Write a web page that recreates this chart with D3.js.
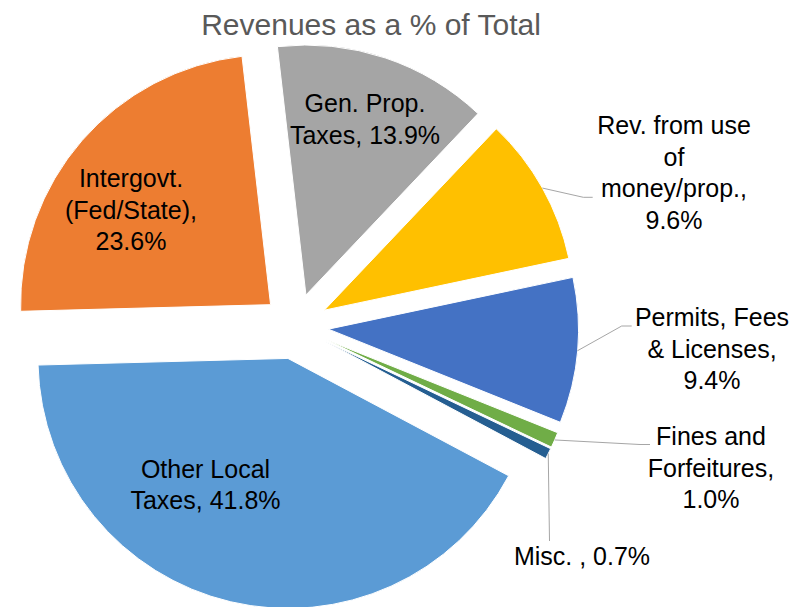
<!DOCTYPE html>
<html>
<head>
<meta charset="utf-8">
<script src="https://cdn.jsdelivr.net/npm/d3@7"></script>
<style>
  body { margin: 0; background: #fff; }
  svg { display: block; }
  text { font-family: "Liberation Sans", Arial, sans-serif; }
</style>
</head>
<body>
<div id="container"></div>
<script>
/* DATA (in sheet order) */
const categories = ["Other Local Taxes", "Intergovt. (Fed/State)", "Gen. Prop. Taxes",
  "Rev. from use of money/prop.", "Permits, Fees & Licenses", "Fines and Forfeitures", "Misc. "];
const values = [41.8, 23.6, 13.9, 9.6, 9.4, 1.0, 0.7];
const colors = ["#5B9BD5", "#ED7D31", "#A5A5A5", "#FFC000", "#4472C4", "#70AD47", "#255E91"];

/* CONSTANTS AND GLOBALS */
const width = 805,
  height = 607,
  cx = 295.5, cy = 326.3,
  radius = 250,
  explode = 33,
  firstSliceAngle = 118; // degrees, clockwise from 12 o'clock

// words per line for each label, and where the label block sits
const labelLayout = [
  { words: [2, 2], x: 205.5, y: 477.5 },
  { words: [1, 1, 1], x: 131, y: 187 },
  { words: [2, 2], x: 365, y: 112.3 },
  { words: [3, 1, 1, 1], x: 674, y: 134, leader: [[583.3, 197.3], [592.7, 197.3]] },
  { words: [2, 2, 1], x: 712, y: 326, leader: [[621.7, 326], [631.7, 326]] },
  { words: [2, 1, 1], x: 711, y: 445, leader: [[640, 444.5], [650, 444.5]] },
  { words: [3], x: 582, y: 565, leader: [[549.5, 541]] }
];
const lineHeight = 31.5;

const data = categories.map((c, i) => ({ name: c, value: values[i], color: colors[i] }));

const svg = d3.select("#container")
  .append("svg")
  .attr("width", width)
  .attr("height", height);

/* PIE */
const start = firstSliceAngle * Math.PI / 180;
const pie = d3.pie()
  .value(d => d.value)
  .sort(null)
  .startAngle(start)
  .endAngle(start + 2 * Math.PI);

const arc = d3.arc().innerRadius(0).outerRadius(radius);
const edgeArc = d3.arc().innerRadius(radius).outerRadius(radius);

const arcs = pie(data);

// offset of each slice along its bisector
const shift = d => {
  const a = (d.startAngle + d.endAngle) / 2;
  return [explode * Math.sin(a), -explode * Math.cos(a)];
};

const g = svg.append("g")
  .attr("transform", `translate(${cx},${cy})`);

g.selectAll(".slice")
  .data(arcs)
  .join("path")
  .attr("class", "slice")
  .attr("transform", d => `translate(${shift(d)})`)
  .attr("d", arc)
  .attr("fill", d => d.data.color)
  .attr("stroke", "#fff")
  .attr("stroke-width", 1);

/* LEADER LINES */
arcs.forEach((d, i) => {
  const lay = labelLayout[i];
  if (!lay.leader) return;
  const [sx, sy] = shift(d);
  const [mx, my] = edgeArc.centroid(d);
  const pts = [[cx + sx + mx, cy + sy + my], ...lay.leader];
  svg.append("path")
    .attr("d", d3.line()(pts))
    .attr("fill", "none")
    .attr("stroke", "#A6A6A6")
    .attr("stroke-width", 1);
});

/* LABELS */
arcs.forEach((d, i) => {
  const lay = labelLayout[i];
  const words = `${d.data.name}, ${d.data.value.toFixed(1)}%`.split(" ");
  const lines = [];
  let k = 0;
  lay.words.forEach(n => { lines.push(words.slice(k, k + n).join(" ")); k += n; });

  const t = svg.append("text")
    .attr("text-anchor", "middle")
    .style("font-size", "25px")
    .style("fill", "#000");
  lines.forEach((ln, j) => {
    t.append("tspan")
      .attr("x", lay.x)
      .attr("y", lay.y + j * lineHeight)
      .text(ln);
  });
});

/* TITLE */
svg.append("text")
  .attr("x", 371)
  .attr("y", 35)
  .attr("text-anchor", "middle")
  .style("font-size", "30px")
  .style("fill", "#595959")
  .text("Revenues as a % of Total");
</script>
</body>
</html>
